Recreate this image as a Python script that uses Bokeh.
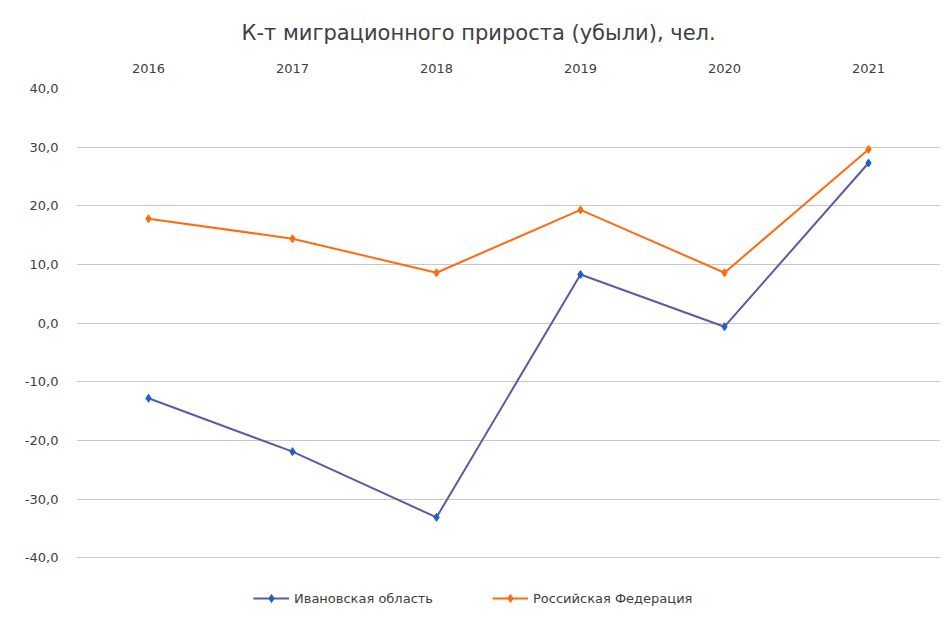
from bokeh.plotting import figure
from bokeh.models import Legend, LegendItem, FixedTicker, Title, ColumnDataSource
from bokeh.embed import file_html
from bokeh.resources import INLINE

years = ["2016", "2017", "2018", "2019", "2020", "2021"]
ivanovo = [-12.8, -21.9, -33.1, 8.3, -0.6, 27.3]
russia = [17.8, 14.4, 8.6, 19.3, 8.6, 29.6]
y_ticks = [-40, -30, -20, -10, 0, 10, 20, 30, 40]
y_labels = ["-40,0", "-30,0", "-20,0", "-10,0", "0,0", "10,0", "20,0", "30,0", "40,0"]
title_text = "К-т миграционного прироста (убыли), чел."
series_names = ["Ивановская область", "Российская Федерация"]

src = ColumnDataSource(dict(year=years, iv=ivanovo, ru=russia))

p = figure(width=940, height=616, x_range=years, y_range=(-50, 40),
           output_backend="svg", toolbar_location=None, x_axis_location="above",
           min_border_left=76, min_border_right=0, min_border_top=88, min_border_bottom=0)
p.outline_line_color = None
p.background_fill_color = "white"
p.border_fill_color = "white"

t = Title(text=title_text, align="left", text_font="DejaVu Sans", text_font_size="21px",
          text_font_style="normal", text_color="#404040", standoff=32, offset=165)
p.add_layout(t, "above")

p.xgrid.visible = False
p.ygrid.grid_line_color = "#c9c9c9"
p.ygrid.grid_line_width = 1
p.ygrid.ticker = FixedTicker(ticks=y_ticks)
p.yaxis.ticker = FixedTicker(ticks=y_ticks)
p.yaxis.major_label_overrides = {k: v for k, v in zip(y_ticks, y_labels)}
for ax in (p.xaxis[0], p.yaxis[0]):
    ax.axis_line_color = None
    ax.major_tick_line_color = None
    ax.minor_tick_line_color = None
    ax.major_label_text_font = "DejaVu Sans"
    ax.major_label_text_font_size = "13px"
    ax.major_label_text_color = "#404040"
p.xaxis.major_label_standoff = 10
p.yaxis.major_label_standoff = 12

iv_color = "#5b5ba3"
iv_marker = "#1f5fc8"
ru_color = "#ff6a10"

l1 = p.line("year", "iv", source=src, line_color=iv_color, line_width=2)
s1 = p.scatter("year", "iv", source=src, marker="diamond", size=8, fill_color=iv_marker, line_color=iv_marker)
l2 = p.line("year", "ru", source=src, line_color=ru_color, line_width=2)
s2 = p.scatter("year", "ru", source=src, marker="diamond", size=8, fill_color=ru_color, line_color=ru_color)

legend = Legend(items=[LegendItem(label=series_names[0], renderers=[l1, s1]),
                       LegendItem(label=series_names[1], renderers=[l2, s2])],
                orientation="horizontal", location=(177, 8),
                label_text_font="DejaVu Sans", label_text_font_size="13px",
                label_text_color="#404040", glyph_width=36, spacing=59,
                border_line_color=None, background_fill_alpha=0, padding=5, margin=0)
p.add_layout(legend, "center")

open("out.html", "w").write(file_html(p, INLINE))
